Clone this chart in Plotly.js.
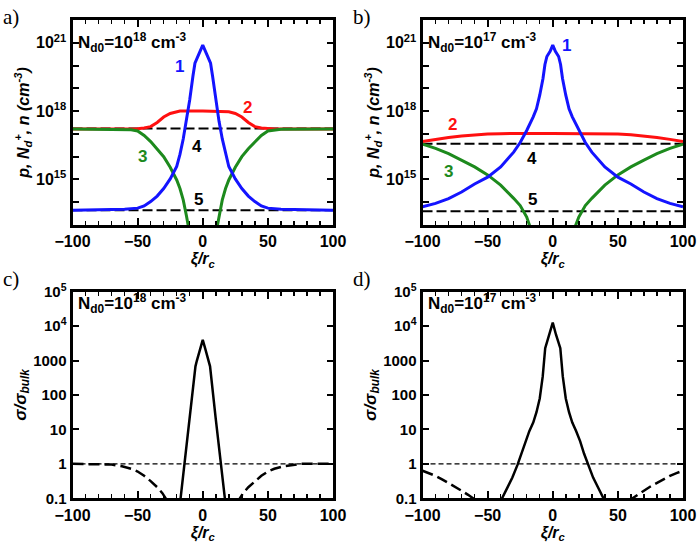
<!DOCTYPE html>
<html>
<head>
<meta charset="utf-8">
<script src="https://cdn.plot.ly/plotly-3.0.1.min.js"></script>
<style>html,body{margin:0;padding:0;background:#fff;}#chart{width:700px;height:544px;}</style>
</head>
<body>
<div id="chart"></div>
<script>
// ---------- Panel a (N_d0 = 1e18) ----------
const xiBlueA = [-100,-80,-60,-50,-45,-40,-35,-30,-25,-20,-17.5,-15,-12.5,-10,-7.5,-6,-3,0,3,6,7.5,10,12.5,15,17.5,20,25,30,35,40,45,50,60,80,100];
const pBlueA  = [4.4e13,4.5e13,4.9e13,5.5e13,6.9e13,1.07e14,1.86e14,4.0e14,1.05e15,3.7e15,1.26e16,6.0e16,3.55e17,3.16e18,3.55e19,1.26e20,3.16e20,7.9e20,3.16e20,1.26e20,3.55e19,3.16e18,3.55e17,6.0e16,1.26e16,3.7e15,1.05e15,4.0e14,1.86e14,1.07e14,6.9e13,5.5e13,4.9e13,4.5e13,4.4e13];
const xiRedA  = [-100,-60,-55,-50,-45,-40,-35,-30,-25,-20,-17.5,0,17.5,20,25,30,35,40,45,50,55,60,100];
const ndRedA  = [1.66e17,1.66e17,1.66e17,1.7e17,1.82e17,2.09e17,3.16e17,5.5e17,7.9e17,9.3e17,1.0e18,1.0e18,1.0e18,9.3e17,7.9e17,5.5e17,3.16e17,2.09e17,1.82e17,1.7e17,1.66e17,1.66e17,1.66e17];
const xiGreenA = [-100,-60,-55,-50,-45,-40,-35,-30,-25,-20,-17.5,-15,-12.5,-10,0,10,12.5,15,17.5,20,25,30,35,40,45,50,55,60,100];
const nGreenA  = [1.66e17,1.58e17,1.51e17,1.35e17,8.5e16,4.6e16,2.24e16,1.0e16,3.4e15,9.5e14,4.0e14,1.26e14,2.5e13,4.0e12,null,4.0e12,2.5e13,1.26e14,4.0e14,9.5e14,3.4e15,1.0e16,2.24e16,4.6e16,8.5e16,1.35e17,1.51e17,1.58e17,1.66e17];
const line4A = 1.74e17;
const line5A = 4.4e13;

// ---------- Panel b (N_d0 = 1e17) ----------
const xiBlueB = [-100,-90,-80,-70,-60,-50,-40,-30,-25,-20,-15,-12.5,-10,-7.5,-6,-4.5,-2,0,2,4.5,6,7.5,10,12.5,15,20,25,30,40,50,60,70,80,90,100];
const pBlueB  = [6.3e13,8.9e13,1.45e14,2.8e14,6.3e14,1.26e15,3.55e15,1.58e16,4.2e16,1.41e17,5.6e17,1.26e18,5.0e18,2.7e19,1.12e20,2.5e20,4.2e20,7.9e20,4.2e20,2.5e20,1.12e20,2.7e19,5.0e18,1.26e18,5.6e17,1.41e17,4.2e16,1.58e16,3.55e15,1.26e15,6.3e14,2.8e14,1.45e14,8.9e13,6.3e13];
const xiRedB  = [-100,-90,-80,-70,-60,-50,-40,-30,0,30,40,50,60,70,80,90,100];
const ndRedB  = [4.6e16,5.75e16,6.9e16,8.1e16,9.1e16,9.8e16,1.02e17,1.05e17,1.05e17,1.05e17,1.02e17,9.8e16,9.1e16,8.1e16,6.9e16,5.75e16,4.6e16];
const xiGreenB = [-100,-90,-80,-70,-60,-50,-40,-30,-25,-20,-17,-15,0,15,17,20,25,30,40,50,60,70,80,90,100];
const nGreenB  = [3.55e16,2.3e16,1.35e16,7.1e15,3.55e15,1.58e15,5.6e14,1.48e14,7.1e13,2.24e13,7.9e12,3.2e12,null,3.2e12,7.9e12,2.24e13,7.1e13,1.48e14,5.6e14,1.58e15,3.55e15,7.1e15,1.35e16,2.3e16,3.55e16];
const line4B = 3.7e16;
const line5B = 4.0e13;

// ---------- Panel c (conductivity, N_d0 = 1e18) ----------
const xiSolidC = [-20,-17,-14,-10,-5.6,-4.5,-2,0,2,4.5,5.6,10,14,17,20];
const sigSolidC = [0.01,0.1,1,20,680,1000,2140,4000,2140,1000,680,20,1,0.1,0.01];
const xiDashC = [-100,-75,-70,-62,-55,-50,-45,-40,-35,-31,-28,-26,0,26,28,31,35,40,45,50,55,62,70,75,100];
const sigDashC = [1.0,1.0,0.955,0.85,0.72,0.6,0.45,0.316,0.21,0.141,0.093,0.071,null,0.071,0.093,0.141,0.21,0.316,0.45,0.6,0.72,0.85,0.955,1.0,1.0];

// ---------- Panel d (conductivity, N_d0 = 1e17) ----------
const xiSolidD = [-40,-38.5,-35,-31,-27,-24,-21,-18,-15,-12.5,-10,-7.7,-5.8,-2.5,0,2.5,5.8,7.7,10,12.5,15,18,21,24,27,31,35,38.5,40];
const sigSolidD = [0.083,0.107,0.2,0.4,0.95,2.0,4.6,8.9,15.8,31.6,79,347,2290,5620,12600,5620,2290,347,79,31.6,15.8,8.9,4.6,2.0,0.95,0.4,0.2,0.107,0.083];
const xiDashD = [-100,-95,-90,-85,-80,-75,-70,-65,-61,-58,0,58,61,65,70,75,80,85,90,95,100];
const sigDashD = [0.63,0.54,0.45,0.355,0.28,0.22,0.166,0.126,0.1,0.083,null,0.083,0.1,0.126,0.166,0.22,0.28,0.355,0.45,0.54,0.63];
const sigBulk = 1;

// tick labels
const topTickVals = [1e13,1e14,1e15,1e16,1e17,1e18,1e19,1e20,1e21,1e22];
const topTickText = ['','','10<sup>15</sup>','','','10<sup>18</sup>','','','10<sup>21</sup>',''];
const botTickVals = [0.1,1,10,100,1000,1e4,1e5];
const botTickText = ['0.1','1','10','100','1000','10<sup>4</sup>','10<sup>5</sup>'];
const xTickVals = [-100,-50,0,50,100];

const BLUE = '#1414ff', RED = '#ff1010', GREEN = '#1d8a1d';
const FONT = 'Liberation Sans, Arial, sans-serif';

function line(x, y, xa, ya, color, width, dash) {
  return {x: x, y: y, xaxis: xa, yaxis: ya, type: 'scatter', mode: 'lines',
          line: {color: color, width: width, dash: dash || 'solid'}, connectgaps: false,
          hoverinfo: 'skip', showlegend: false};
}
const full = [-100, 100];
const traces = [
  line(full, [line4A, line4A], 'x', 'y', '#000', 2, '10px,4px'),
  line(full, [line5A, line5A], 'x', 'y', '#000', 2, '10px,4px'),
  line(xiRedA, ndRedA, 'x', 'y', RED, 3),
  line(xiGreenA, nGreenA, 'x', 'y', GREEN, 3),
  line(xiBlueA, pBlueA, 'x', 'y', BLUE, 3),

  line(full, [line4B, line4B], 'x2', 'y2', '#000', 2, '10px,4px'),
  line(full, [line5B, line5B], 'x2', 'y2', '#000', 2, '10px,4px'),
  line(xiRedB, ndRedB, 'x2', 'y2', RED, 3),
  line(xiGreenB, nGreenB, 'x2', 'y2', GREEN, 3),
  line(xiBlueB, pBlueB, 'x2', 'y2', BLUE, 3),

  line(full, [sigBulk, sigBulk], 'x3', 'y3', '#000', 1.2, '5px,3px'),
  line(xiDashC, sigDashC, 'x3', 'y3', '#000', 2.5, '11px,5px'),
  line(xiSolidC, sigSolidC, 'x3', 'y3', '#000', 2.5),

  line(full, [sigBulk, sigBulk], 'x4', 'y4', '#000', 1.2, '5px,3px'),
  line(xiDashD, sigDashD, 'x4', 'y4', '#000', 2.5, '11px,5px'),
  line(xiSolidD, sigSolidD, 'x4', 'y4', '#000', 2.5)
];

const xTickFont = {family: FONT, size: 16, color: '#000', weight: 'bold'};
function xaxis(domain, anchor) {
  return {domain: domain, anchor: anchor, range: [-100, 100], tickmode: 'array', tickvals: xTickVals,
          ticks: 'inside', ticklen: 7, tickwidth: 2, tickcolor: '#000',
          minor: {dtick: 10, tick0: 0, ticks: 'inside', ticklen: 4, tickwidth: 1.5, tickcolor: '#000'},
          showline: true, linewidth: 3, linecolor: '#000', mirror: 'ticks', showgrid: false, zeroline: false,
          tickfont: xTickFont,
          title: {text: '<i>ξ/r<sub>c</sub></i>', font: {family: FONT, size: 16, color: '#000', weight: 'bold'}, standoff: 4}};
}
function yaxis(domain, anchor, range, tv, tt, title, tsize, ttsize) {
  return {domain: domain, anchor: anchor, type: 'log', range: range, tickmode: 'array', tickvals: tv, ticktext: tt,
          ticks: 'inside', ticklen: 6, tickwidth: 2, tickcolor: '#000',
          showline: true, linewidth: 3, linecolor: '#000', mirror: 'ticks', showgrid: false, zeroline: false,
          tickfont: {family: FONT, size: tsize, color: '#000', weight: 'bold'},
          title: {text: title, font: {family: FONT, size: ttsize, color: '#000', weight: 'bold'}, standoff: 3}};
}
const topY = [0.5864, 0.9632], botY = [0.084, 0.4638];
const leftX = [0.1036, 0.4757], rightX = [0.6036, 0.9757];
const topTitle = '<i>p, N<sub>d</sub><sup>+</sup>, n (cm<sup>-3</sup>)</i>';
const botTitle = '<i>σ/σ<sub>bulk</sub></i>';

function lab(text, x, y, xref, yref, color) {
  return {text: '<b>' + text + '</b>', x: x, y: y, xref: xref, yref: yref, showarrow: false,
          font: {family: FONT, size: 17, color: color}};
}
function nd(text, xref, yref, y) {
  return {text: '<b>' + text + '</b>', x: -97, y: y, xref: xref, yref: yref, xanchor: 'left', showarrow: false,
          font: {family: FONT, size: 17, color: '#000'}};
}
function panel(text, x, y) {
  return {text: text, x: x, y: y, xref: 'paper', yref: 'paper', xanchor: 'left', yanchor: 'top', showarrow: false,
          font: {family: 'Liberation Serif, Times New Roman, serif', size: 21, color: '#000'}};
}

const annotations = [
  nd('N<sub>d0</sub>=10<sup>18</sup> cm<sup>-3</sup>', 'x', 'y', 21.0),
  nd('N<sub>d0</sub>=10<sup>17</sup> cm<sup>-3</sup>', 'x2', 'y2', 21.0),
  nd('N<sub>d0</sub>=10<sup>18</sup> cm<sup>-3</sup>', 'x3', 'y3', 4.65),
  nd('N<sub>d0</sub>=10<sup>17</sup> cm<sup>-3</sup>', 'x4', 'y4', 4.65),
  lab('1', -17.5, 19.95, 'x', 'y', BLUE),
  lab('2', 34.7, 18.18, 'x', 'y', RED),
  lab('3', -45.9, 16.0, 'x', 'y', GREEN),
  lab('4', -4.4, 16.44, 'x', 'y', '#000'),
  lab('5', -2.9, 14.12, 'x', 'y', '#000'),
  lab('1', 10.9, 20.9, 'x2', 'y2', BLUE),
  lab('2', -76.6, 17.4, 'x2', 'y2', RED),
  lab('3', -80.4, 15.35, 'x2', 'y2', GREEN),
  lab('4', -15.9, 15.9, 'x2', 'y2', '#000'),
  lab('5', -15.9, 14.12, 'x2', 'y2', '#000'),
  panel('a)', 0.002, 0.995),
  panel('b)', 0.502, 0.995),
  panel('c)', 0.002, 0.513),
  panel('d)', 0.502, 0.513)
];

const layout = {
  width: 700, height: 544, margin: {l: 0, r: 0, t: 0, b: 0},
  paper_bgcolor: '#fff', plot_bgcolor: '#fff', showlegend: false,
  xaxis: xaxis(leftX, 'y'), yaxis: yaxis(topY, 'x', [13, 22], topTickVals, topTickText, topTitle, 16, 16),
  xaxis2: xaxis(rightX, 'y2'), yaxis2: yaxis(topY, 'x2', [13, 22], topTickVals, topTickText, topTitle, 16, 16),
  xaxis3: xaxis(leftX, 'y3'), yaxis3: yaxis(botY, 'x3', [-1, 5], botTickVals, botTickText, botTitle, 15, 17),
  xaxis4: xaxis(rightX, 'y4'), yaxis4: yaxis(botY, 'x4', [-1, 5], botTickVals, botTickText, botTitle, 15, 17),
  annotations: annotations
};
Plotly.newPlot('chart', traces, layout, {staticPlot: true, displayModeBar: false});
</script>
</body>
</html>
